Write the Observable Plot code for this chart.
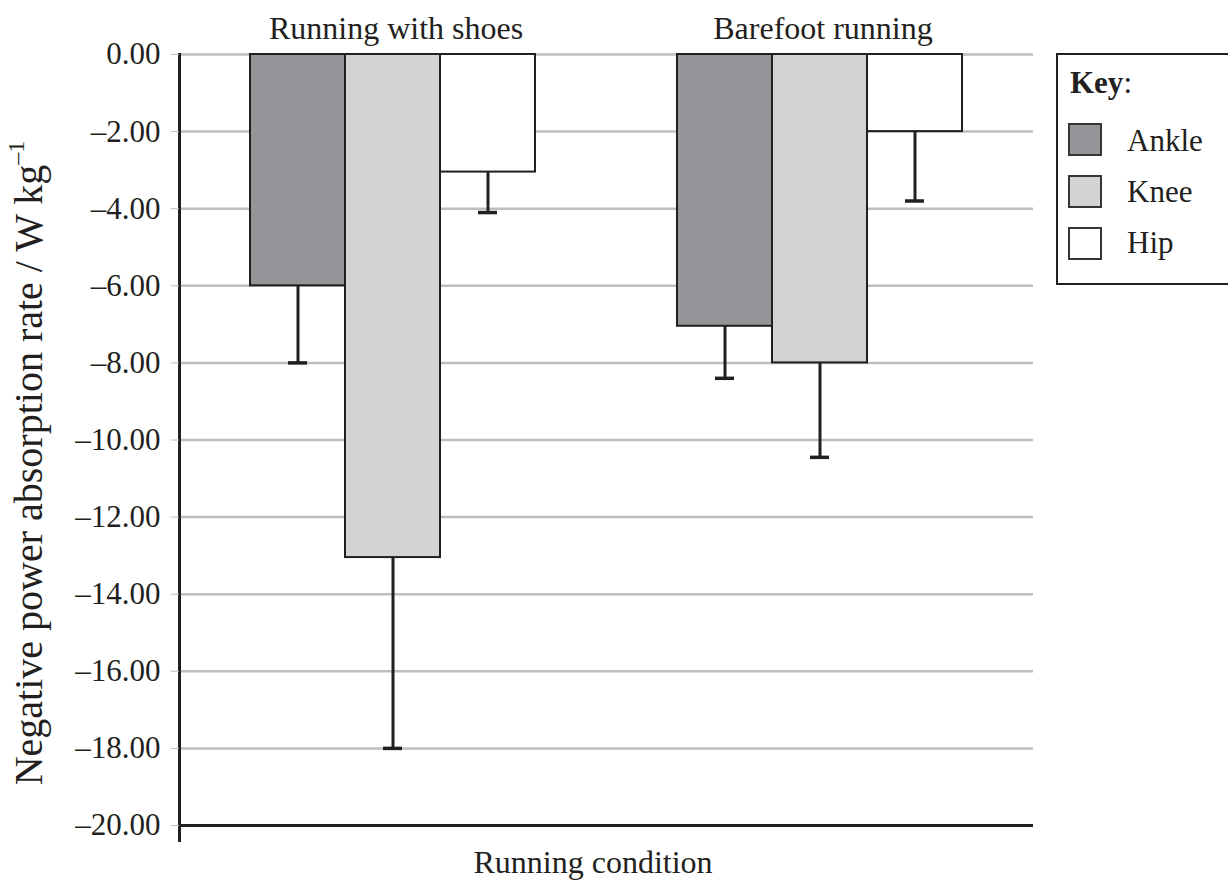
<!DOCTYPE html>
<html>
<head>
<meta charset="utf-8">
<script src="https://cdn.jsdelivr.net/npm/d3@7"></script>
<script src="https://cdn.jsdelivr.net/npm/@observablehq/plot@0.6"></script>
<style>
  body { margin: 0; background: #fff; }
  #wrap { position: relative; width: 1228px; height: 881px; overflow: hidden;
          font-family: "Liberation Serif", "Times New Roman", serif; color: #231f20; background: #fff; }
  #wrap svg { position: absolute; left: 0; top: 0; }
  #xlabel { position: absolute; left: 0; width: 1186px; top: 846px; text-align: center;
            font-size: 32px; line-height: 1; }
  #legend { position: absolute; left: 1056px; top: 53px; width: 220px; height: 232px;
            border: 2px solid #231f20; box-sizing: border-box; background: #fff; }
  #legend .t { position: absolute; font-size: 31px; line-height: 1; white-space: nowrap; }
  #legend .sw { position: absolute; width: 34px; height: 33px; box-sizing: border-box;
                border: 2px solid #353535; }
</style>
</head>
<body>
<div id="wrap"></div>
<script>
// ---- data ----
const conditions = ["Running with shoes", "Barefoot running"];
const joints = ["Ankle", "Knee", "Hip"];
const jointColors = ["#939598", "#d1d3d4", "#ffffff"];
const shoesMean = [-6.0, -13.05, -3.05];
const shoesLower = [-8.0, -18.0, -4.1];
const barefootMean = [-7.05, -8.0, -2.0];
const barefootLower = [-8.4, -10.45, -3.8];
const yTicks = [0, -2, -4, -6, -8, -10, -12, -14, -16, -18, -20];

const means = [shoesMean, barefootMean];
const lowers = [shoesLower, barefootLower];
const data = conditions.flatMap((c, ci) =>
  joints.map((j, ji) => ({condition: c, joint: j, value: means[ci][ji], lower: lowers[ci][ji]}))
);

const fmt = d => d === 0 ? "0.00" : "\u2013" + (-d).toFixed(2);
const ink = "#231f20";

const plot = Plot.plot({
  width: 1228,
  height: 881,
  marginTop: 54,
  marginBottom: 56,
  marginLeft: 179,
  marginRight: 195,
  style: {fontFamily: "Liberation Serif, Times New Roman, serif", fontSize: "31px", color: ink, background: "transparent"},
  fx: {domain: conditions, padding: 0, label: null},
  x: {domain: joints, paddingInner: 0, paddingOuter: 0.735, axis: null},
  y: {domain: [-20, 0], label: null},
  color: {domain: joints, range: jointColors},
  marks: [
    Plot.ruleY(yTicks.filter(t => t > -20), {stroke: "#bcbec0", strokeWidth: 2.5}),
    Plot.barY(data, {fx: "condition", x: "joint", y: "value", fill: "joint", stroke: ink, strokeWidth: 2}),
    Plot.ruleX(data, {fx: "condition", x: "joint", y1: "value", y2: "lower", stroke: ink, strokeWidth: 3}),
    Plot.tickY(data, {fx: "condition", x: "joint", y: "lower", stroke: ink, strokeWidth: 3.5, insetLeft: 38, insetRight: 38}),
    Plot.ruleY([-20], {stroke: ink, strokeWidth: 3}),
    Plot.frame({anchor: "left", facetAnchor: "left", stroke: ink, strokeWidth: 3, insetBottom: -15}),
    Plot.axisFx({anchor: "top", tickSize: 0, tickPadding: 16, label: null, fontSize: 32, dx: 3}),
    Plot.axisY({
      ticks: yTicks, tickSize: 8, tickPadding: 11, tickFormat: fmt,
      stroke: "#bcbec0", fill: ink, fontSize: 31,
      label: "Negative power absorption rate / W kg", labelAnchor: "center", labelOffset: 166
    })
  ]
});

document.getElementById("wrap").appendChild(plot);

// y label: larger type, superscript exponent, slightly lower centre
const ylab = d3.select(plot).select('g[aria-label="y-axis label"] text');
if (!ylab.empty()) {
  ylab.selectAll("*").remove();
  ylab.text("Negative power absorption rate / W kg");
  ylab.style("font-size", "40px").attr("x", -23);
  ylab.append("tspan").attr("font-size", 24).attr("dy", "-0.75em").text("\u20131");
}

// x label
const xl = document.createElement("div");
xl.id = "xlabel";
xl.textContent = "Running condition";
document.getElementById("wrap").appendChild(xl);

// legend (colors from the plot's color scale)
const cs = plot.scale("color");
const lg = document.createElement("div");
lg.id = "legend";
const key = document.createElement("div");
key.className = "t";
key.style.left = "12px"; key.style.top = "12px";
key.innerHTML = "<b>Key</b>:";
lg.appendChild(key);
cs.domain.forEach((j, i) => {
  const sw = document.createElement("div");
  sw.className = "sw";
  sw.style.left = "10px";
  sw.style.top = (68 + i * 52) + "px";
  sw.style.background = cs.apply(j);
  lg.appendChild(sw);
  const t = document.createElement("div");
  t.className = "t";
  t.style.left = "69px";
  t.style.top = (70 + i * 51) + "px";
  t.textContent = j;
  lg.appendChild(t);
});
document.getElementById("wrap").appendChild(lg);
</script>
</body>
</html>
